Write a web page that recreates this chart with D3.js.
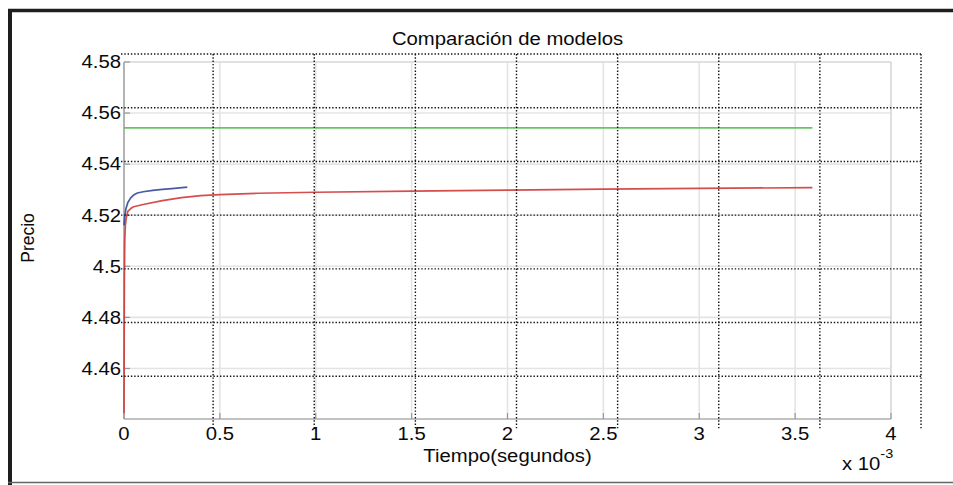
<!DOCTYPE html>
<html><head><meta charset="utf-8">
<script src="https://cdn.jsdelivr.net/npm/d3@7"></script>
<style>
html,body{margin:0;padding:0;background:#fff;}
svg{display:block;font-family:"Liberation Sans",Arial,sans-serif;}
</style></head>
<body>
<svg id="chart" width="953" height="485"></svg>
<script>
// ---- data (time in seconds, price) ----
const greenT = [0, 0.0005e-3, 0.3e-3, 0.8e-3, 1.5e-3, 2.2e-3, 2.9e-3, 3.59e-3];
const greenP = [4.5542, 4.5542, 4.5542, 4.5542, 4.5542, 4.5542, 4.5542, 4.5542];

const redT = [0, 0.001e-3, 0.002e-3, 0.004e-3, 0.007e-3, 0.012e-3, 0.02e-3, 0.035e-3, 0.05e-3, 0.1e-3, 0.2e-3, 0.3e-3, 0.4e-3, 0.5e-3, 0.7e-3, 1.0e-3, 1.5e-3, 2.0e-3, 2.5e-3, 3.0e-3, 3.59e-3];
const redP = [4.4425, 4.470, 4.495, 4.510, 4.516, 4.519, 4.5215, 4.5226, 4.5233, 4.5242, 4.5257, 4.5269, 4.5277, 4.5281, 4.5286, 4.5290, 4.5294, 4.5298, 4.5302, 4.5305, 4.5308];

const blueT = [0, 0.004e-3, 0.01e-3, 0.02e-3, 0.035e-3, 0.05e-3, 0.07e-3, 0.1e-3, 0.15e-3, 0.2e-3, 0.25e-3, 0.33e-3];
const blueP = [4.5160, 4.5195, 4.5225, 4.5250, 4.5268, 4.5279, 4.5287, 4.5292, 4.5297, 4.5301, 4.5304, 4.5310];

const xTicks = [0, 0.5e-3, 1e-3, 1.5e-3, 2e-3, 2.5e-3, 3e-3, 3.5e-3, 4e-3];
const xTickLabels = ["0", "0.5", "1", "1.5", "2", "2.5", "3", "3.5", "4"];
const yTicks = [4.46, 4.48, 4.50, 4.52, 4.54, 4.56, 4.58];
const yTickLabels = ["4.46", "4.48", "4.5", "4.52", "4.54", "4.56", "4.58"];

const titleText = "Comparación de modelos";
const xLabelText = "Tiempo(segundos)";
const yLabelText = "Precio";

// overlay (misregistered dotted grid) cells
const overlayCols = [1, 2, 3, 4, 5, 6, 7, 8];
const overlayRows = [0, 1, 2, 3, 4, 5, 6];

// ---- drawing ----
const svg = d3.select("#chart");
const L = 124, R = 891, T = 62, B = 419;
const SX = 1.16; // horizontal stretch of the scanned text
const FS = 17.5;
const x = d3.scaleLinear().domain([0, 4e-3]).range([L, R]);
const y = d3.scaleLinear().domain([4.4402, 4.58]).range([B, T]);

// outer frame
svg.append("line").attr("x1", 10).attr("x2", 10).attr("y1", 9).attr("y2", 485)
  .attr("stroke", "#1e1e1e").attr("stroke-width", 4);
svg.append("line").attr("x1", 8).attr("x2", 953).attr("y1", 10.5).attr("y2", 10.5)
  .attr("stroke", "#1e1e1e").attr("stroke-width", 3.5);
svg.append("line").attr("x1", 8).attr("x2", 953).attr("y1", 482.5).attr("y2", 482.5)
  .attr("stroke", "#666").attr("stroke-width", 1.5);

// light solid grid of axes
const g = svg.append("g");
g.selectAll(".vg").data(xTicks).join("line")
  .attr("x1", d => x(d)).attr("x2", d => x(d)).attr("y1", T).attr("y2", B)
  .attr("stroke", "#e4e4e4").attr("stroke-width", 1.6);
g.selectAll(".hg").data(yTicks).join("line")
  .attr("x1", L).attr("x2", R).attr("y1", d => y(d)).attr("y2", d => y(d))
  .attr("stroke", "#e4e4e4").attr("stroke-width", 1.6);

// box
g.append("line").attr("x1", L).attr("x2", R).attr("y1", T).attr("y2", T).attr("stroke", "#d8d8d8").attr("stroke-width", 1.2);
g.append("line").attr("x1", R).attr("x2", R).attr("y1", T).attr("y2", B).attr("stroke", "#d8d8d8").attr("stroke-width", 1.2);
g.append("line").attr("x1", L).attr("x2", R).attr("y1", B).attr("y2", B).attr("stroke", "#858585").attr("stroke-width", 1.2);
g.append("line").attr("x1", L).attr("x2", L).attr("y1", T).attr("y2", B).attr("stroke", "#909090").attr("stroke-width", 1.2);

// inward ticks
g.selectAll(".xt").data(xTicks).join("line")
  .attr("x1", d => x(d)).attr("x2", d => x(d)).attr("y1", B).attr("y2", B - 6)
  .attr("stroke", "#999").attr("stroke-width", 1.2);
g.selectAll(".yt").data(yTicks).join("line")
  .attr("x1", L).attr("x2", L + 6).attr("y1", d => y(d)).attr("y2", d => y(d))
  .attr("stroke", "#999").attr("stroke-width", 1.2);

// series
const line = d3.line().x(d => x(d[0])).y(d => y(d[1]));
const series = [
  {t: greenT, p: greenP, c: "#56bc56"},
  {t: redT, p: redP, c: "#d23a3a"},
  {t: blueT, p: blueP, c: "#33499a"}
];
series.forEach(s => {
  const pts = s.t.map((t, i) => [t, s.p[i]]);
  svg.append("path").datum(pts).attr("d", line)
    .attr("fill", "none").attr("stroke", s.c).attr("stroke-width", 1.7)
    .attr("stroke-linejoin", "round").attr("opacity", 0.9);
});

// misregistered black dotted grid overlay
const gx = d3.scaleLinear().domain([0, 8]).range([112, 921]);
const gy = d3.scaleLinear().domain([0, 7]).range([54, 430]);
const ov = svg.append("g").attr("stroke", "#111").attr("stroke-width", 1.4)
  .attr("stroke-dasharray", "1.4,1.9");
ov.selectAll(".ov").data(overlayCols).join("line")
  .attr("x1", d => gx(d)).attr("x2", d => gx(d)).attr("y1", gy(0)).attr("y2", gy(7));
ov.selectAll(".oh").data(overlayRows).join("line")
  .attr("x1", 121).attr("x2", gx(8)).attr("y1", d => gy(d)).attr("y2", d => gy(d));

// helper: stretched text
function stext(px, py, anchor, size, str) {
  return svg.append("text")
    .attr("transform", `translate(${px},${py}) scale(${SX},1)`)
    .attr("text-anchor", anchor).attr("font-size", size).attr("fill", "#0a0a0a")
    .text(str);
}

// tick labels
xTicks.forEach((d, i) => stext(x(d), 440, "middle", FS, xTickLabels[i]));
yTicks.forEach((d, i) => stext(121, y(d) + 6.3, "end", FS, yTickLabels[i]));

// exponent
const ex = stext(842, 470, "start", FS, "");
ex.append("tspan").text("x 10");
ex.append("tspan").attr("font-size", 12.5).attr("dy", -12).text("-3");

// title and labels
stext((L + R) / 2, 45, "middle", FS, titleText);
stext((L + R) / 2, 462, "middle", FS, xLabelText);
svg.append("text").attr("transform", "translate(34,238) rotate(-90)").attr("text-anchor", "middle")
  .attr("font-size", FS).attr("fill", "#0a0a0a").text(yLabelText);
</script>
</body></html>
